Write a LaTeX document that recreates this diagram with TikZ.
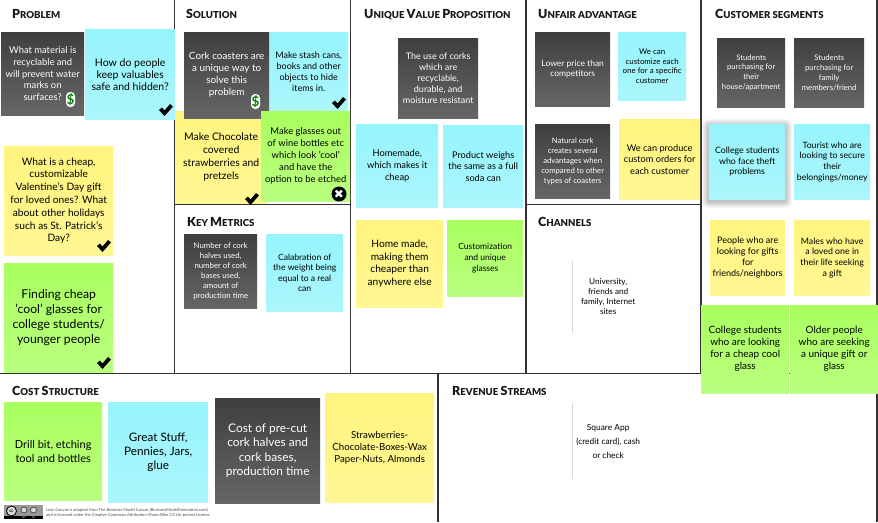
\documentclass[tikz,border=0pt]{standalone}
\usepackage{fontspec}
\setmainfont{Lato}
\newfontfamily\symfont{DejaVu Sans}
\newfontfamily\headfont{Lato Black}

\definecolor{noteYellow}{HTML}{FFF47E}
\definecolor{noteYellowB}{HTML}{FFF794}
\definecolor{noteBlue}{HTML}{96F4FC}
\definecolor{noteBlueB}{HTML}{ABF6FC}
\definecolor{noteGreen}{HTML}{A9FF5E}
\definecolor{noteGreenB}{HTML}{BAFF80}
\definecolor{noteDark}{HTML}{3F3F3F}
\definecolor{noteDarkB}{HTML}{666666}
\definecolor{panelLine}{HTML}{333333}

\newcommand{\hd}[2]{{\fontsize{12.5}{14}\selectfont #1}#2}

\tikzset{
	box/.style 2 args={minimum width=#1pt,minimum height=#2pt},
	txt/.style 2 args={font=\fontsize{#1}{#2}\selectfont},
	note/.style={shape=rectangle,anchor=north west,inner sep=0pt,align=center,text=black},
	yellownote/.style={note,top color=noteYellow,bottom color=noteYellowB},
	bluenote/.style={note,top color=noteBlue,bottom color=noteBlueB},
	greennote/.style={note,top color=noteGreen,bottom color=noteGreenB},
	darknote/.style={note,top color=noteDark,middle color=noteDark!90!noteDarkB,bottom color=noteDarkB,text=white},
	whitenote/.style={note},
	heading/.style={anchor=base west,inner sep=0pt,font=\headfont\fontsize{9.6}{12}\selectfont,text=black!90},
	dollar/.style={shape=rectangle,rounded corners=4pt,fill=white,inner sep=0pt,minimum width=9pt,minimum height=15pt,
		text=green!50!black,font=\fontsize{13.5}{14}\selectfont\bfseries},
	pics/tick/.style={code={\fill[black] (0,6) -- (3,3.5) -- (5.5,6.5) -- (11,0) -- (14,2.5) -- (5.5,12) -- cycle;}}
}

\begin{document}
\begin{tikzpicture}[x=1pt,y=-1pt]
	\useasboundingbox (0,0) rectangle (878,522);
	\fill[white] (0,0) rectangle (878,522);
	
	% panel lines
	\foreach \xpos in {174.5,350.5,526,701}
	{
		\draw[panelLine,line width=1.1pt] (\xpos,0) -- (\xpos,373.5);
	}
	\draw[panelLine,line width=1.1pt] (0,373.5) -- (877,373.5);
	\draw[panelLine,line width=1.1pt] (438,373.5) -- (438,522);
	\draw[panelLine,line width=1.1pt] (877,0) -- (877,522);
	\foreach \xa/\xb in {174.5/350.5,526/701}
	{
		\draw[panelLine,line width=1.1pt] (\xa,204.5) -- (\xb,204.5);
	}
	
	% headings
	\node[heading] (hProblem) at (12,19) {\hd{P}{ROBLEM}};
	\node[heading] (hSolution) at (186,19) {\hd{S}{OLUTION}};
	\node[heading] (hMetrics) at (187,226) {\hd{K}{EY} \hd{M}{ETRICS}};
	\node[heading] (hValue) at (364,19) {\hd{U}{NIQUE} \hd{V}{ALUE} \hd{P}{ROPOSITION}};
	\node[heading] (hUnfair) at (538,19) {\hd{U}{NFAIR ADVANTAGE}};
	\node[heading] (hChannels) at (538,226) {\hd{C}{HANNELS}};
	\node[heading] (hCustomer) at (715,19) {\hd{C}{USTOMER SEGMENTS}};
	\node[heading] (hCost) at (12,395) {\hd{C}{OST} \hd{S}{TRUCTURE}};
	\node[heading] (hRevenue) at (452,395) {\hd{R}{EVENUE} \hd{S}{TREAMS}};
	
	% problem
	\node[darknote,box={83}{83},txt={9.4}{11.8}] (pDark) at (1,32) {What material is\\recyclable and\\will prevent water\\marks on\\surfaces?};
	\node[bluenote,box={90}{90},txt={10.5}{12}] (pBlue) at (85,29) {How do people\\keep valuables\\safe and hidden?};
	\node[yellownote,box={109}{109},txt={10.2}{12.8}] (pYellow) at (4,146) {What is a cheap,\\customizable\\Valentine's Day gift\\for loved ones? What\\about other holidays\\such as St. Patrick's\\Day?};
	\node[greennote,box={109}{109},txt={12.2}{15}] (pGreen) at (4,263) {Finding cheap\\'cool' glasses for\\college students/\\younger people};
	\node[dollar] (pDollar) at (70.5,99.5) {\$};
	\pic at (159,104) {tick};
	\pic at (97,240) {tick};
	\pic at (97,357) {tick};
	
	% solution
	\node[yellownote,box={92}{92},txt={10.4}{12.8}] (sYellow) at (175,111) {Make Chocolate\\covered\\strawberries and\\pretzels};
	\node[bluenote,box={79}{79},txt={9}{11}] (sBlue) at (269,32) {Make stash cans,\\books and other\\objects to hide\\items in.};
	\node[darknote,box={85}{86},txt={9.9}{12}] (sDark) at (184,32) {Cork coasters are\\a unique way to\\solve this\\problem};
	\node[greennote,box={89}{90},txt={9.4}{12}] (sGreen) at (261,111) {Make glasses out\\of wine bottles etc\\which look 'cool'\\and have the\\option to be etched};
	\node[dollar] (sDollar) at (255.5,101.5) {\$};
	\pic at (332,97) {tick};
	\pic at (245,193) {tick};
	\node[shape=circle,fill=black,inner sep=0pt,minimum size=15pt,text=white,font=\symfont\fontsize{12}{12}\selectfont] (sCross) at (339,194) {✖};
	
	% key metrics
	\node[darknote,box={73}{74},txt={7.8}{10}] (mDark) at (184,234) {Number of cork\\halves used,\\number of cork\\bases used,\\amount of\\production time};
	\node[bluenote,box={77}{77},txt={8.6}{10.5}] (mBlue) at (266,234) {Calabration of\\the weight being\\equal to a real\\can};
	
	% unique value proposition
	\node[darknote,box={80}{80},txt={9}{11.2}] (vDark) at (398,38) {The use of corks\\which are\\recyclable,\\durable, and\\moisture resistant};
	\node[bluenote,box={82}{83},txt={9.3}{12}] (vBlueA) at (356,124) {Homemade,\\which makes it\\cheap};
	\node[bluenote,box={80}{82},txt={9.2}{11.5}] (vBlueB) at (443,125) {Product weighs\\the same as a full\\soda can};
	\node[yellownote,box={87}{87},txt={10.2}{12.4}] (vYellow) at (356,220) {Home made,\\making them\\cheaper than\\anywhere else};
	\node[greennote,box={76}{76},txt={8.5}{10.8}] (vGreen) at (447,220) {Customization\\and unique\\glasses};
	
	% unfair advantage
	\node[darknote,box={75}{74},txt={8.5}{10}] (uDarkA) at (535,32) {Lower price than\\competitors};
	\node[bluenote,box={68}{68},txt={7.9}{9.6}] (uBlue) at (618,32) {We can\\customize each\\one for a specific\\customer};
	\node[darknote,box={75}{74},txt={7.7}{10}] (uDarkB) at (535,124) {Natural cork\\creates several\\advantages when\\compared to other\\types of coasters};
	\node[yellownote,box={81}{80},txt={9.2}{11.5}] (uYellow) at (619,119) {We can produce\\custom orders for\\each customer};
	
	% channels
	\node[whitenote,box={72}{73},txt={8.2}{10.2}] (chNote) at (572,260) {University,\\friends and\\family, Internet\\sites};
	\draw[black!15] (chNote.north west) -- (chNote.south west);
	
	% customer segments
	\node[darknote,box={68}{69},txt={7.7}{9.8}] (cDarkA) at (717,38) {Students\\purchasing for\\their\\house/apartment};
	\node[darknote,box={70}{69},txt={7.7}{9.8}] (cDarkB) at (794,38) {Students\\purchasing for\\family\\members/friend};
	\foreach \pad in {7,6,5,4,3,2,1}
	{
		\fill[black,opacity=.035,rounded corners=\pad pt] (709-\pad,124-\pad+2) rectangle (785+\pad,199+\pad+2);
	}
	\node[bluenote,box={76}{75},txt={8.8}{10.4}] (cBlueA) at (709,124) {College students\\who face theft\\problems};
	\node[bluenote,box={76}{75},txt={8.7}{10.6}] (cBlueB) at (794,124) {Tourist who are\\looking to secure\\their\\belongings/money};
	\node[yellownote,box={75}{75},txt={9}{10.8}] (cYellowA) at (710,220) {People who are\\looking for gifts\\for\\friends/neighbors};
	\node[yellownote,box={76}{75},txt={8.8}{10.6}] (cYellowB) at (794,220) {Males who have\\a loved one in\\their life seeking\\a gift};
	\node[greennote,box={88}{88},txt={10}{12}] (cGreenA) at (701,305) {College students\\who are looking\\for a cheap cool\\glass};
	\node[greennote,box={88}{88},txt={10}{12}] (cGreenB) at (790,305) {Older people\\who are seeking\\a unique gift or\\glass};
	
	% cost structure
	\node[greennote,box={98}{98},txt={11}{14}] (oGreen) at (4,402) {Drill bit, etching\\tool and bottles};
	\node[bluenote,box={100}{100},txt={11.7}{13.8}] (oBlue) at (108,402) {Great Stuff,\\Pennies, Jars,\\glue};
	\node[darknote,box={105}{105},txt={11.9}{14.4}] (oDark) at (215,398) {Cost of pre-cut\\cork halves and\\cork bases,\\production time};
	\node[yellownote,box={109}{109},txt={9.7}{12.4}] (oYellow) at (325,393) {Strawberries-\\Chocolate-Boxes-Wax\\Paper-Nuts, Almonds};
	
	% revenue streams
	\node[whitenote,box={72}{76},txt={8.4}{14}] (rNote) at (572,403) {Square App\\(credit card), cash\\or check};
	\draw[black!15] (rNote.north west) -- (rNote.south west);
	
	% licence badge
	\fill[black!40] (4,505) rectangle (43,519);
	\fill[black] (4,516) rectangle (43,519);
	\node[shape=circle,draw=black,fill=black!15,line width=.8pt,inner sep=0pt,minimum size=10pt,font=\fontsize{4.5}{5}\selectfont\bfseries] (ccLogo) at (11.5,511) {cc};
	\node[shape=circle,draw=black,fill=black!15,inner sep=0pt,minimum size=6pt] (ccBy) at (24,510) {};
	\node[shape=circle,draw=black,fill=black!15,inner sep=0pt,minimum size=6pt] (ccSa) at (33.5,510) {};
	\node[inner sep=0pt,text=white,font=\fontsize{2.4}{3}\selectfont] (ccByText) at (24,517.5) {BY};
	\node[inner sep=0pt,text=white,font=\fontsize{2.4}{3}\selectfont] (ccSaText) at (33.5,517.5) {SA};
	\node[anchor=west,inner sep=0pt,align=left,text=black!70,font=\fontsize{4.1}{5}\selectfont] (ccText) at (46,513) {Lean Canvas is adapted from The Business Model Canvas (BusinessModelGeneration.com)\\and is licensed under the Creative Commons Attribution-Share Alike 3.0 Un-ported License.};
\end{tikzpicture}
\end{document}
